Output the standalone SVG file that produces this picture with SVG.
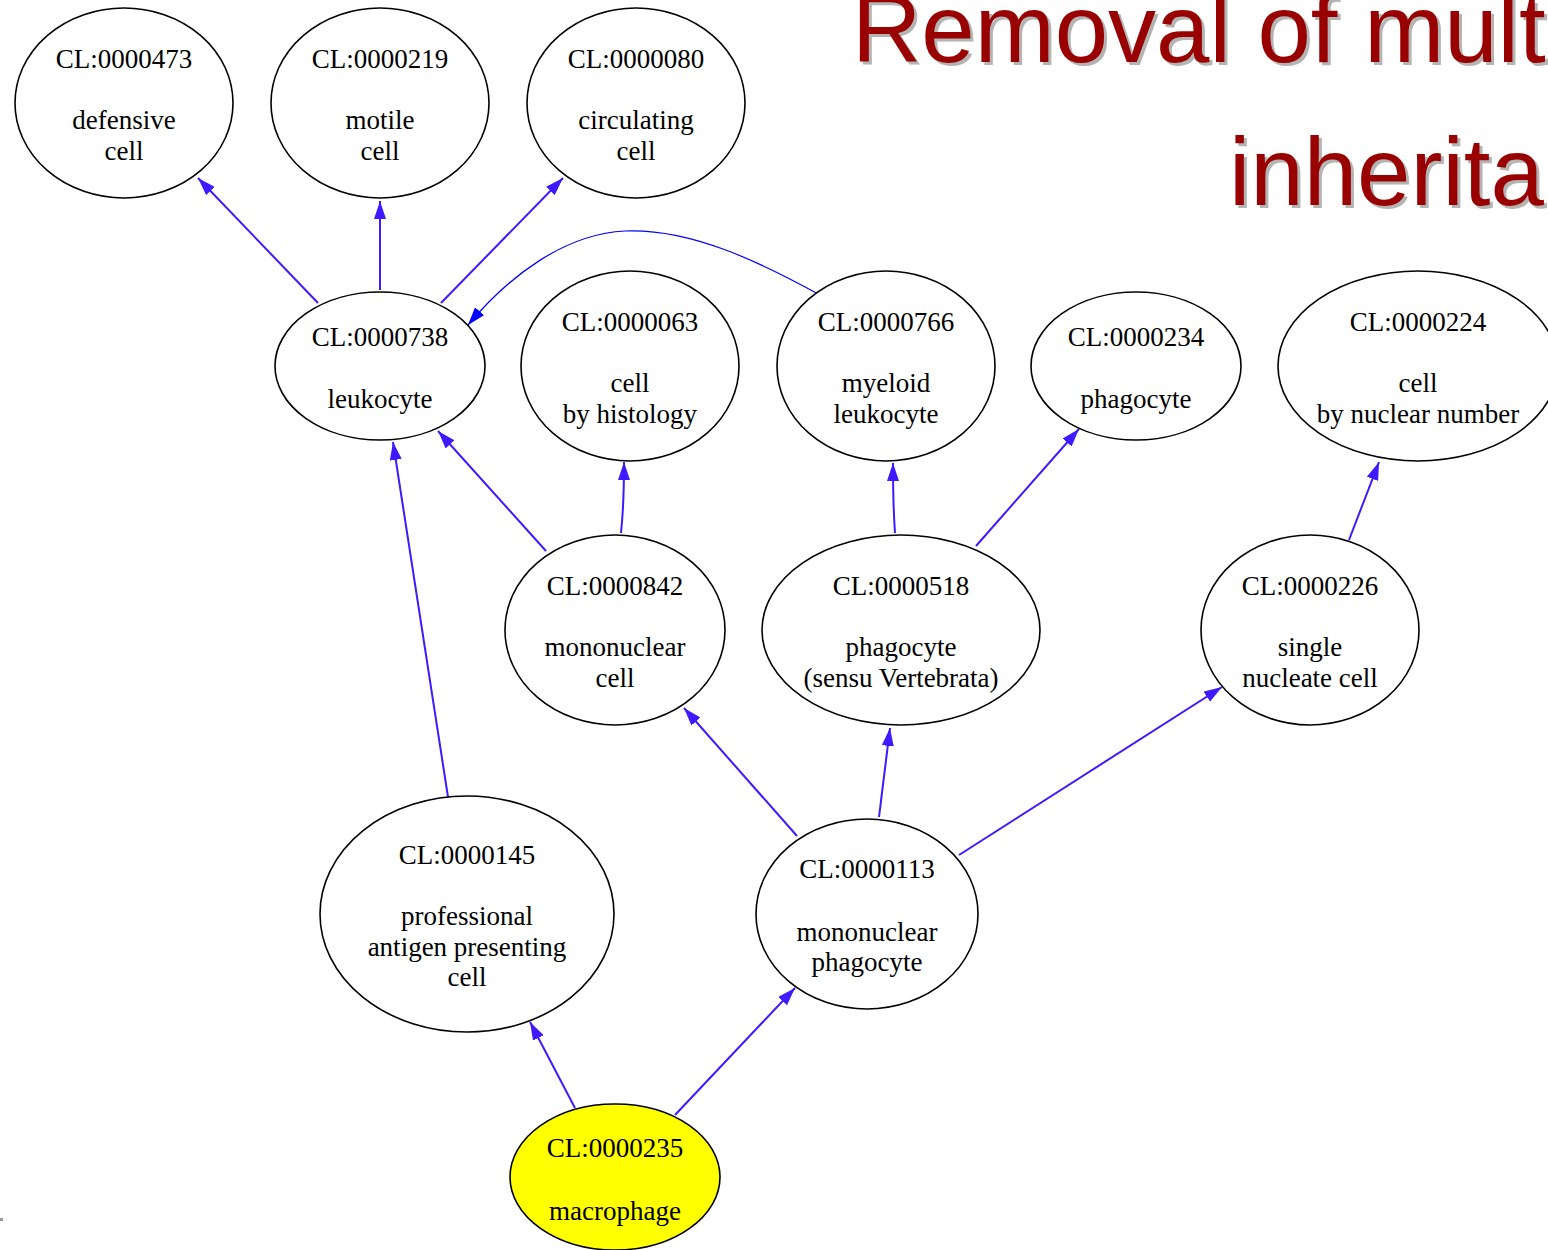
<svg xmlns="http://www.w3.org/2000/svg" width="1548" height="1250" viewBox="0 0 1548 1250">
<defs>
<style>
.node ellipse{fill:#ffffff;stroke:#000000;stroke-width:1.6}
.node text{font-family:"Liberation Serif","Times New Roman",serif;font-size:27px;fill:#000000;text-anchor:middle}
.edge{fill:none;stroke:#3d1aff;stroke-width:2}
.title{font-family:"Liberation Sans",Arial,sans-serif;font-size:96px}
</style>
<marker id="ah" viewBox="0 0 18 12" refX="18" refY="6" markerWidth="18" markerHeight="12" markerUnits="userSpaceOnUse" orient="auto">
<path d="M0,0 L18,6 L0,12 z" fill="#3d1aff"/>
</marker>
<marker id="ahb" viewBox="0 0 18 12" refX="18" refY="6" markerWidth="18" markerHeight="12" markerUnits="userSpaceOnUse" orient="auto">
<path d="M0,0 L18,6 L0,12 z" fill="#0000ff"/>
</marker>
</defs>
<rect width="1548" height="1250" fill="#ffffff"/>
<g id="title">
<text class="title" x="855" y="65" fill="#b4b4b4">Removal of mult</text>
<text class="title" x="852" y="62" fill="#990000">Removal of mult</text>
<text class="title" x="1232" y="208" fill="#b4b4b4">inherita</text>
<text class="title" x="1229" y="205" fill="#990000">inherita</text>
</g>
<rect x="0" y="1218" width="3" height="3" fill="#999999"/>
<g id="edges">
<path class="edge" d="M318,303 L198,178" marker-end="url(#ah)"/>
<path class="edge" d="M380,290 L380,201" marker-end="url(#ah)"/>
<path class="edge" d="M441,303 L563,178" marker-end="url(#ah)"/>
<path class="edge" d="M546,551 L438,431" marker-end="url(#ah)"/>
<path class="edge" d="M621,533 Q624,505 624,462" marker-end="url(#ah)"/>
<path class="edge" d="M448,797 L393,442" marker-end="url(#ah)"/>
<path class="edge" d="M895,533 Q893,505 893,463" marker-end="url(#ah)"/>
<path class="edge" d="M976,546 L1079,429" marker-end="url(#ah)"/>
<path class="edge" d="M1349,540 L1379,462" marker-end="url(#ah)"/>
<path class="edge" d="M797,836 L684,708" marker-end="url(#ah)"/>
<path class="edge" d="M879,817 L890,728" marker-end="url(#ah)"/>
<path class="edge" d="M959,855 L1222,687" marker-end="url(#ah)"/>
<path class="edge" d="M575,1108 L530,1022" marker-end="url(#ah)"/>
<path class="edge" d="M675,1115 L795,988" marker-end="url(#ah)"/>
<path d="M820,295 C760,262 690,228 625,231 C565,234 510,275 468,325" fill="none" stroke="#0000ff" stroke-width="1.2" marker-end="url(#ahb)"/>
</g>
<g id="n0000473" class="node"><ellipse cx="124" cy="103" rx="109" ry="95"/><text x="124" y="68">CL:0000473</text><text x="124" y="129">defensive</text><text x="124" y="160">cell</text></g>
<g id="n0000219" class="node"><ellipse cx="380" cy="103" rx="109" ry="95"/><text x="380" y="68">CL:0000219</text><text x="380" y="129">motile</text><text x="380" y="160">cell</text></g>
<g id="n0000080" class="node"><ellipse cx="636" cy="103" rx="109" ry="95"/><text x="636" y="68">CL:0000080</text><text x="636" y="129">circulating</text><text x="636" y="160">cell</text></g>
<g id="n0000738" class="node"><ellipse cx="380" cy="366" rx="105" ry="74"/><text x="380" y="346">CL:0000738</text><text x="380" y="408">leukocyte</text></g>
<g id="n0000063" class="node"><ellipse cx="630" cy="366" rx="109" ry="95"/><text x="630" y="331">CL:0000063</text><text x="630" y="392">cell</text><text x="630" y="423">by histology</text></g>
<g id="n0000766" class="node"><ellipse cx="886" cy="366" rx="109" ry="95"/><text x="886" y="331">CL:0000766</text><text x="886" y="392">myeloid</text><text x="886" y="423">leukocyte</text></g>
<g id="n0000234" class="node"><ellipse cx="1136" cy="366" rx="105" ry="74"/><text x="1136" y="346">CL:0000234</text><text x="1136" y="408">phagocyte</text></g>
<g id="n0000224" class="node"><ellipse cx="1418" cy="366" rx="140" ry="95"/><text x="1418" y="331">CL:0000224</text><text x="1418" y="392">cell</text><text x="1418" y="423">by nuclear number</text></g>
<g id="n0000842" class="node"><ellipse cx="615" cy="630" rx="110" ry="95"/><text x="615" y="595">CL:0000842</text><text x="615" y="656">mononuclear</text><text x="615" y="687">cell</text></g>
<g id="n0000518" class="node"><ellipse cx="901" cy="630" rx="139" ry="95"/><text x="901" y="595">CL:0000518</text><text x="901" y="656">phagocyte</text><text x="901" y="687">(sensu Vertebrata)</text></g>
<g id="n0000226" class="node"><ellipse cx="1310" cy="630" rx="109" ry="95"/><text x="1310" y="595">CL:0000226</text><text x="1310" y="656">single</text><text x="1310" y="687">nucleate cell</text></g>
<g id="n0000145" class="node"><ellipse cx="467" cy="914" rx="147" ry="118"/><text x="467" y="864">CL:0000145</text><text x="467" y="925">professional</text><text x="467" y="956">antigen presenting</text><text x="467" y="986">cell</text></g>
<g id="n0000113" class="node"><ellipse cx="867" cy="914" rx="111" ry="95"/><text x="867" y="878">CL:0000113</text><text x="867" y="941">mononuclear</text><text x="867" y="971">phagocyte</text></g>
<g id="n0000235" class="node"><ellipse cx="615" cy="1177" rx="105" ry="73" style="fill:#ffff00"/><text x="615" y="1157">CL:0000235</text><text x="615" y="1220">macrophage</text></g>
</svg>
